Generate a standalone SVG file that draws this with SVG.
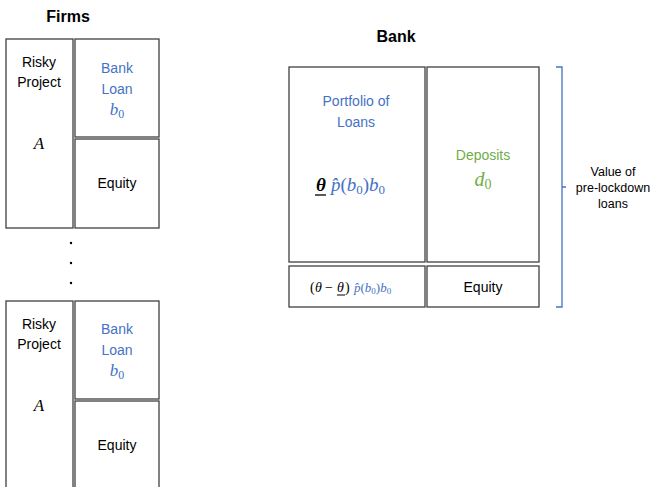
<svg xmlns="http://www.w3.org/2000/svg" width="657" height="487" viewBox="0 0 657 487">
<style>
.box{fill:#fff;stroke:#404040;stroke-width:1.3}
.t{font-family:"Liberation Sans",Arial,sans-serif;font-size:14px;fill:#000;text-anchor:middle}
.ttl{font-family:"Liberation Sans",Arial,sans-serif;font-size:16px;font-weight:bold;text-anchor:middle}
.blue{fill:#4472C4}
.green{fill:#70AD47}
.m{font-family:"Liberation Serif","Times New Roman",serif;font-style:italic}
.mv{font-family:"Liberation Serif","Times New Roman",serif;font-style:italic;font-size:17px;text-anchor:middle}
.sub{font-style:normal;font-size:12px}
.sm{font-family:"Liberation Sans",Arial,sans-serif;font-size:12.5px;text-anchor:middle}
</style>
<rect width="657" height="487" fill="#fff"/>
<text class="ttl" x="68" y="22">Firms</text>
<g id="firm1">
<rect class="box" x="6" y="39" width="67" height="189"/>
<rect class="box" x="75" y="39" width="84" height="98"/>
<rect class="box" x="75" y="139" width="84" height="89"/>
<text class="t" x="39" y="67">Risky</text>
<text class="t" x="39" y="87">Project</text>
<text class="mv" x="39" y="149">A</text>
<text class="t blue" x="117" y="73">Bank</text>
<text class="t blue" x="117" y="94">Loan</text>
<text class="mv blue" x="117" y="115">b<tspan class="sub" dy="3">0</tspan></text>
<text class="t" x="117" y="188">Equity</text>
</g>
<g id="dots" fill="#000">
<circle cx="71" cy="243" r="1.2"/>
<circle cx="71" cy="263" r="1.2"/>
<circle cx="71" cy="283" r="1.2"/>
</g>
<g id="firm2">
<rect class="box" x="6" y="301" width="67" height="200"/>
<rect class="box" x="75" y="301" width="84" height="98"/>
<rect class="box" x="75" y="401" width="84" height="100"/>
<text class="t" x="39" y="329">Risky</text>
<text class="t" x="39" y="349">Project</text>
<text class="mv" x="39" y="411">A</text>
<text class="t blue" x="117" y="334">Bank</text>
<text class="t blue" x="117" y="355">Loan</text>
<text class="mv blue" x="117" y="376">b<tspan class="sub" dy="3">0</tspan></text>
<text class="t" x="117" y="450">Equity</text>
</g>
<text class="ttl" x="396" y="42">Bank</text>
<g id="bank">
<rect class="box" x="289" y="67" width="136" height="195"/>
<rect class="box" x="427" y="67" width="112" height="195"/>
<rect class="box" x="289" y="266" width="136" height="41"/>
<rect class="box" x="427" y="266" width="112" height="41"/>
<text class="t blue" x="356" y="106">Portfolio  of</text>
<text class="t blue" x="356" y="127">Loans</text>
<text x="316" y="191" font-size="19" class="m"><tspan font-weight="bold" fill="#000">θ</tspan><tspan class="blue" dx="5">p̂</tspan><tspan class="blue" font-style="normal">(</tspan><tspan class="blue">b</tspan><tspan class="blue" font-style="normal" font-size="13" dy="3">0</tspan><tspan class="blue" font-style="normal" dy="-3">)</tspan><tspan class="blue">b</tspan><tspan class="blue" font-style="normal" font-size="13" dy="3">0</tspan></text>
<line x1="315" y1="195" x2="326" y2="195" stroke="#000" stroke-width="1.3"/>
<text class="t green" x="483" y="160">Deposits</text>
<text class="mv green" x="483" y="186" style="font-size:20px">d<tspan class="sub" style="font-size:14px" dy="3">0</tspan></text>
<g id="eqformula" font-family="'Liberation Serif','Times New Roman',serif" font-size="14">
<text x="310" y="292">(</text>
<text x="315" y="292" font-style="italic">θ</text>
<text x="325" y="292">−</text>
<text x="337" y="292" font-style="italic">θ</text>
<text x="345" y="292">)</text>
<line x1="337" y1="295" x2="345" y2="295" stroke="#000" stroke-width="1"/>
<text x="354" y="292" class="blue" font-size="13"><tspan font-style="italic">p̂</tspan>(<tspan font-style="italic">b</tspan><tspan font-size="9" dy="2">0</tspan><tspan dy="-2">)</tspan><tspan font-style="italic">b</tspan><tspan font-size="9" dy="2">0</tspan></text>
</g>
<text class="t" x="483" y="292">Equity</text>
</g>
<g id="brace" fill="none" stroke="#4472C4" stroke-width="1.3">
<path d="M556 67 H562 V307 H556 M562 187 H566"/>
</g>
<g id="label">
<text class="sm" x="613" y="176">Value of</text>
<text class="sm" x="613" y="192">pre-lockdown</text>
<text class="sm" x="613" y="208">loans</text>
</g>
</svg>
